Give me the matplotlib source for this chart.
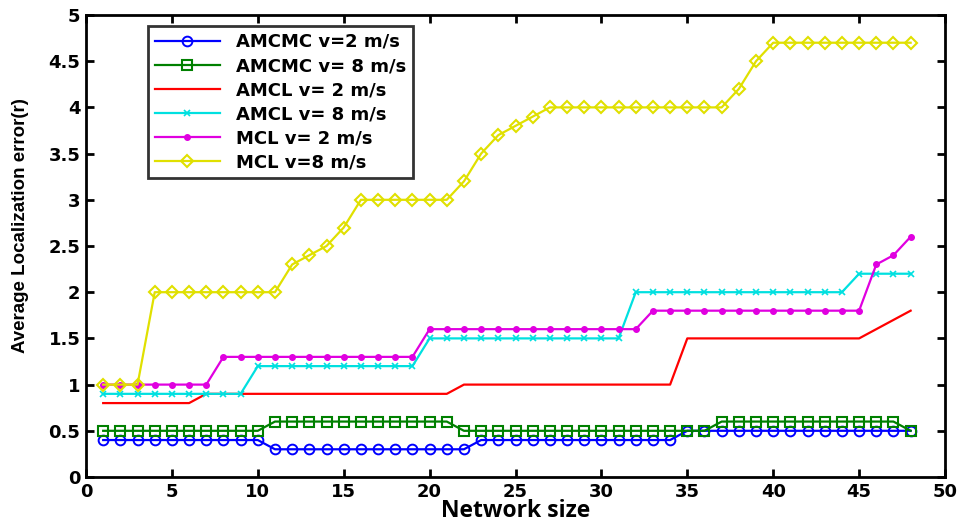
import matplotlib
matplotlib.use("Agg")
import matplotlib.pyplot as plt
import numpy as np

network_size = list(range(1, 49))

amcmc_v2 = [0.4]*10 + [0.3]*12 + [0.4]*12 + [0.5]*14
amcmc_v8 = [0.5]*10 + [0.6]*11 + [0.5]*15 + [0.6]*11 + [0.5]
amcl_v2 = [0.8]*6 + [0.9]*15 + [1.0]*13 + [1.5]*11 + [1.6, 1.7, 1.8]
amcl_v8 = [0.9]*9 + [1.2]*10 + [1.5]*12 + [2.0]*13 + [2.2]*4
mcl_v2 = [1.0]*7 + [1.3]*12 + [1.6]*13 + [1.8]*13 + [2.3, 2.4, 2.6]
mcl_v8 = ([1.0]*3 + [2.0]*8 + [2.3, 2.4, 2.5, 2.7] + [3.0]*6 +
          [3.2, 3.5, 3.7, 3.8, 3.9] + [4.0]*11 + [4.2, 4.5] + [4.7]*9)

labels = ["AMCMC v=2 m/s", "AMCMC v= 8 m/s", "AMCL v= 2 m/s",
          "AMCL v= 8 m/s", "MCL v= 2 m/s", "MCL v=8 m/s"]
x_ticks = list(range(0, 51, 5))
y_ticks = [0, 0.5, 1, 1.5, 2, 2.5, 3, 3.5, 4, 4.5, 5]
y_tick_labels = ["0", "0.5", "1", "1.5", "2", "2.5", "3", "3.5", "4", "4.5", "5"]

fig = plt.figure(figsize=(9.6, 5.24), dpi=100)
ax = fig.add_axes([86/960, 1-477/524, (945-86)/960, (477-15)/524])

lw = 1.6
ax.plot(network_size, amcmc_v2, color="#0000ff", lw=lw, marker="o", ms=7,
        mfc="none", mew=1.4, label=labels[0])
ax.plot(network_size, amcmc_v8, color="#008000", lw=lw, marker="s", ms=7.5,
        mfc="none", mew=1.5, label=labels[1])
ax.plot(network_size, amcl_v2, color="#ff0000", lw=lw, label=labels[2])
ax.plot(network_size, amcl_v8, color="#00e0e0", lw=lw, marker="x", ms=4,
        mew=1.2, label=labels[3])
ax.plot(network_size, mcl_v2, color="#e000e0", lw=lw, marker=".", ms=8,
        label=labels[4])
ax.plot(network_size, mcl_v8, color="#e0e000", lw=lw, marker="D", ms=6.5,
        mfc="none", mew=1.5, label=labels[5])

ax.set_xlim(0, 50)
ax.set_ylim(0, 5)
ax.set_xticks(x_ticks)
ax.set_yticks(y_ticks)
ax.set_yticklabels(y_tick_labels)
ax.tick_params(direction="in", top=True, right=True, length=6, width=2,
               labelsize=13, pad=4)
for t in ax.get_xticklabels() + ax.get_yticklabels():
    t.set_fontweight("bold")
for s in ax.spines.values():
    s.set_linewidth(2)

ax.set_xlabel("Network size", fontsize=16.5, fontweight="bold", labelpad=-1,
              family=["Open Sans", "DejaVu Sans"])
ax.set_ylabel("Average Localization error(r)", fontsize=13.5, fontweight="bold",
              family=["Liberation Sans Narrow", "Liberation Sans", "DejaVu Sans"])
ax.yaxis.set_label_coords(-0.066, 0.545)

leg = ax.legend(loc="upper left", bbox_to_anchor=((148-86)/859, (477-26)/462),
                frameon=True, fancybox=False, fontsize=13, handlelength=3.6,
                labelspacing=0.34, borderpad=0.38, handletextpad=0.9,
                borderaxespad=0)
leg.get_frame().set_edgecolor("black")
leg.get_frame().set_linewidth(2)
for t in leg.get_texts():
    t.set_fontweight("bold")

fig.savefig("out.png", dpi=100)
